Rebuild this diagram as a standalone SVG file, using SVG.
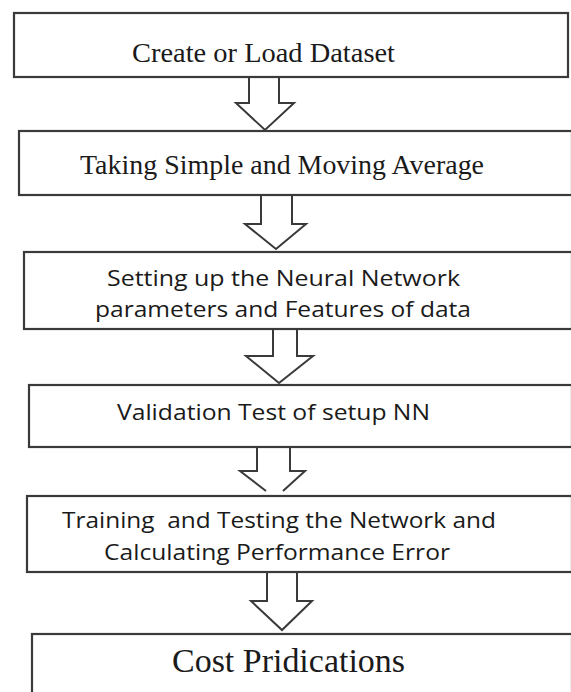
<svg xmlns="http://www.w3.org/2000/svg" width="571" height="692" viewBox="0 0 571 692">
<style>
.box{fill:#fff;stroke:#3a3a3a;stroke-width:2.2}
.arr{fill:none;stroke:#3a3a3a;stroke-width:2;stroke-linejoin:miter}
.serif{font-family:"Liberation Serif","Times New Roman",serif;fill:#1a1a1a;text-anchor:middle}
.sans{font-family:"Open Sans","Noto Sans",sans-serif;font-size:22px;fill:#1a1a1a;text-anchor:middle;white-space:pre}
</style>
<rect width="571" height="692" fill="#fff"/>
<g id="connectors">
<polyline class="arr" points="249,77 249,103 236,103 265,130 294,103 279,103 279,77"/>
<polyline class="arr" points="261,195 261,224 245,224 276,249 306,224 292,224 292,195"/>
<polyline class="arr" points="273,329 273,356 246,356 279,383 313,356 297,356 297,329"/>
<polyline class="arr" points="257,447 257,471 240,471 266,491"/>
<polyline class="arr" points="283,491 305,471 290,471 290,447"/>
<polyline class="arr" points="267,572 267,601 251,601 282,630 312,601 297,601 297,572"/>
</g>
<g id="n1">
<rect class="box" x="14" y="13" width="554" height="64"/>
<text class="serif" x="263.5" y="62" font-size="28" textLength="263" lengthAdjust="spacingAndGlyphs">Create or Load Dataset</text>
</g>
<g id="n2">
<rect class="box" x="19" y="131" width="553" height="64"/>
<text class="serif" x="282" y="174" font-size="27.5" textLength="404" lengthAdjust="spacingAndGlyphs">Taking Simple and Moving Average</text>
</g>
<g id="n3">
<rect class="box" x="24" y="252" width="548" height="77"/>
<text class="sans" x="283.5" y="286" textLength="353" lengthAdjust="spacingAndGlyphs">Setting up the Neural Network</text>
<text class="sans" x="283" y="317" textLength="376" lengthAdjust="spacingAndGlyphs">parameters and Features of data</text>
</g>
<g id="n4">
<rect class="box" x="29" y="385" width="543" height="62"/>
<text class="sans" x="273.5" y="420" textLength="313" lengthAdjust="spacingAndGlyphs">Validation Test of setup NN</text>
</g>
<g id="n5">
<rect class="box" x="27" y="496" width="545" height="76"/>
<text class="sans" x="279" y="528" textLength="434" lengthAdjust="spacingAndGlyphs" xml:space="preserve">Training  and Testing the Network and</text>
<text class="sans" x="277" y="560" textLength="346" lengthAdjust="spacingAndGlyphs">Calculating Performance Error</text>
</g>
<g id="n6">
<rect class="box" x="32" y="634" width="540" height="70"/>
<text class="serif" x="288.5" y="672" font-size="33" textLength="233" lengthAdjust="spacingAndGlyphs">Cost Pridications</text>
</g>
</svg>
